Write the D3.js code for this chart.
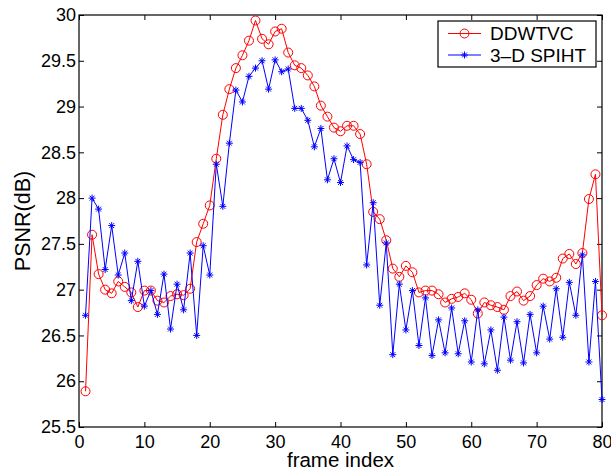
<!DOCTYPE html>
<html>
<head>
<meta charset="UTF-8">
<script src="https://d3js.org/d3.v7.min.js"></script>
<style>
body { margin: 0; background: #fff; }
text { font-family: "Liberation Sans", Arial, sans-serif; fill: #000; }
</style>
</head>
<body>
<script>
// PSNR per frame
const frames = d3.range(1, 81);
const ddwtvc = [
  25.89, 27.60, 27.17, 27.00, 26.96, 27.09, 27.03, 26.97, 26.81, 26.99,
  26.99, 26.88, 26.86, 26.93, 26.95, 26.94, 27.01, 27.52, 27.72, 27.92,
  28.43, 28.91, 29.19, 29.42, 29.56, 29.72, 29.94, 29.74, 29.68, 29.82,
  29.85, 29.59, 29.45, 29.42, 29.34, 29.22, 29.01, 28.89, 28.77, 28.73,
  28.79, 28.79, 28.70, 28.37, 27.85, 27.77, 27.54, 27.23, 27.14, 27.26,
  27.19, 26.97, 26.99, 26.99, 26.95, 26.86, 26.90, 26.92, 26.96, 26.89,
  26.74, 26.86, 26.83, 26.81, 26.78, 26.93, 26.98, 26.88, 26.93, 27.05,
  27.12, 27.09, 27.13, 27.34, 27.39, 27.28, 27.40, 27.99, 28.26, 26.72
];
const spiht = [
  26.72, 28.00, 27.88, 27.22, 27.70, 27.16, 27.40, 26.88, 27.31, 26.82,
  26.99, 26.73, 27.17, 26.57, 27.06, 26.78, 27.40, 26.50, 27.48, 27.16,
  28.37, 27.91, 28.60, 29.18, 29.05, 29.33, 29.42, 29.50, 29.19, 29.51,
  29.38, 29.41, 28.98, 28.98, 28.85, 28.56, 28.76, 28.20, 28.43, 28.17,
  28.57, 28.42, 28.39, 27.27, 27.95, 26.83, 27.51, 26.29, 27.06, 26.56,
  26.99, 26.39, 26.91, 26.28, 26.67, 26.31, 26.80, 26.30, 26.66, 26.21,
  26.78, 26.19, 26.56, 26.12, 26.70, 26.23, 26.65, 26.20, 26.73, 26.31,
  26.82, 26.46, 27.01, 26.48, 27.08, 26.72, 27.38, 26.21, 27.09, 25.80
];
const seriesNames = ["DDWTVC", "3\u2013D SPIHT"];
const xTicks = [0, 10, 20, 30, 40, 50, 60, 70, 80];
const yTicks = [25.5, 26, 26.5, 27, 27.5, 28, 28.5, 29, 29.5, 30];

const W = 611, H = 471;
const margin = {top: 15, right: 9, bottom: 44, left: 79};
const width = W - margin.left - margin.right;
const height = H - margin.top - margin.bottom;

const svg = d3.select("body").append("svg")
  .attr("width", W).attr("height", H);
const g = svg.append("g")
  .attr("transform", "translate(" + margin.left + "," + margin.top + ")");

const x = d3.scaleLinear().domain([0, 80]).range([0, width]);
const y = d3.scaleLinear().domain([25.5, 30]).range([height, 0]);

// axes, ticks pointing inward on all four sides
const fmt = d => String(d);
g.append("g").attr("transform", "translate(0," + height + ")")
  .call(d3.axisBottom(x).tickValues(xTicks).tickFormat(fmt).tickSizeInner(-5).tickSizeOuter(0).tickPadding(8));
g.append("g")
  .call(d3.axisTop(x).tickValues(xTicks).tickFormat("").tickSizeInner(-5).tickSizeOuter(0));
g.append("g")
  .call(d3.axisLeft(y).tickValues(yTicks).tickFormat(fmt).tickSizeInner(-5).tickSizeOuter(0).tickPadding(3));
g.append("g").attr("transform", "translate(" + width + ",0)")
  .call(d3.axisRight(y).tickValues(yTicks).tickFormat("").tickSizeInner(-5).tickSizeOuter(0));
g.selectAll(".domain").remove();
g.selectAll(".tick line").attr("stroke", "#000");
g.selectAll(".tick text").style("font-size", "18px").attr("fill", "#000");

g.append("rect").attr("width", width).attr("height", height)
  .attr("fill", "none").attr("stroke", "#000").attr("stroke-width", 1.2);

const line = d3.line().x((d, i) => x(frames[i])).y(d => y(d));

// DDWTVC: red, circles
g.append("path").datum(ddwtvc).attr("d", line)
  .attr("fill", "none").attr("stroke", "#ff0000").attr("stroke-width", 1);
g.selectAll(".circ").data(ddwtvc).enter().append("circle")
  .attr("cx", (d, i) => x(frames[i])).attr("cy", d => y(d)).attr("r", 4.5)
  .attr("fill", "none").attr("stroke", "#ff0000").attr("stroke-width", 1);

// 3-D SPIHT: blue, asterisks
const star = s => "M" + (-s) + ",0H" + s + "M0," + (-s) + "V" + s +
  "M" + (-s * 0.7) + "," + (-s * 0.7) + "L" + (s * 0.7) + "," + (s * 0.7) +
  "M" + (-s * 0.7) + "," + (s * 0.7) + "L" + (s * 0.7) + "," + (-s * 0.7);
g.append("path").datum(spiht).attr("d", line)
  .attr("fill", "none").attr("stroke", "#0000ff").attr("stroke-width", 1);
g.selectAll(".star").data(spiht).enter().append("path")
  .attr("transform", (d, i) => "translate(" + x(frames[i]) + "," + y(d) + ")")
  .attr("d", star(3.5)).attr("stroke", "#0000ff").attr("stroke-width", 1).attr("fill", "none");

// axis labels
svg.append("text").attr("x", margin.left + width / 2).attr("y", 467)
  .attr("text-anchor", "middle").style("font-size", "20.5px").text("frame index");
svg.append("text").attr("transform", "translate(30," + (margin.top + height / 2) + ") rotate(-90)")
  .attr("text-anchor", "middle").style("font-size", "21.5px").text("PSNR(dB)");

// legend
const leg = svg.append("g").attr("transform", "translate(438,21)");
leg.append("rect").attr("width", 158).attr("height", 46)
  .attr("fill", "#fff").attr("stroke", "#000").attr("stroke-width", 1.2);
const legColors = ["#ff0000", "#0000ff"];
seriesNames.forEach((name, i) => {
  const cy = 12.5 + i * 21.5;
  leg.append("line").attr("x1", 10).attr("x2", 43).attr("y1", cy).attr("y2", cy)
    .attr("stroke", legColors[i]).attr("stroke-width", 1);
  if (i === 0) {
    leg.append("circle").attr("cx", 26.5).attr("cy", cy).attr("r", 4.5)
      .attr("fill", "none").attr("stroke", legColors[i]);
  } else {
    leg.append("path").attr("transform", "translate(26.5," + cy + ")").attr("d", star(3.5))
      .attr("stroke", legColors[i]).attr("fill", "none");
  }
  leg.append("text").attr("x", 52).attr("y", cy).attr("dy", "0.35em")
    .style("font-size", "19px").text(name);
});
</script>
</body>
</html>
